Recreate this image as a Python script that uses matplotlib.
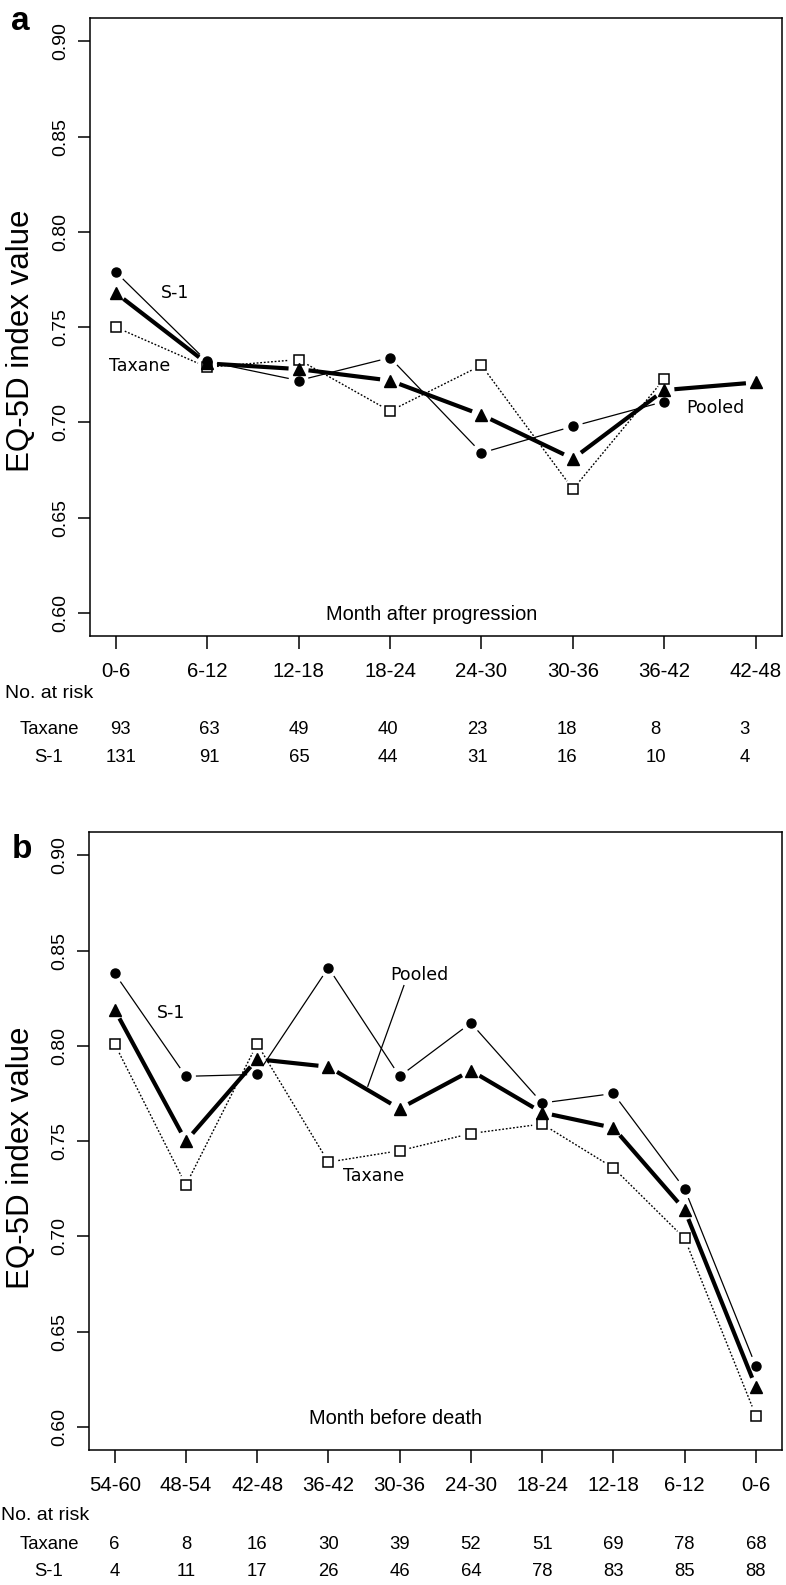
import numpy as np
import matplotlib
matplotlib.use('Agg')
import matplotlib.pyplot as plt

# ---- data ----
cats_a = ['0-6', '6-12', '12-18', '18-24', '24-30', '30-36', '36-42', '42-48']
pooled_a = [0.768, 0.731, 0.728, 0.722, 0.704, 0.681, 0.717, 0.721]
s1_a = [0.779, 0.732, 0.722, 0.734, 0.684, 0.698, 0.711, np.nan]
taxane_a = [0.750, 0.729, 0.733, 0.706, 0.730, 0.665, 0.723, np.nan]
risk_taxane_a = [93, 63, 49, 40, 23, 18, 8, 3]
risk_s1_a = [131, 91, 65, 44, 31, 16, 10, 4]

cats_b = ['54-60', '48-54', '42-48', '36-42', '30-36', '24-30', '18-24', '12-18', '6-12', '0-6']
pooled_b = [0.819, 0.750, 0.793, 0.789, 0.767, 0.787, 0.765, 0.757, 0.714, 0.621]
s1_b = [0.838, 0.784, 0.785, 0.841, 0.784, 0.812, 0.770, 0.775, 0.725, 0.632]
taxane_b = [0.801, 0.727, 0.801, 0.739, 0.745, 0.754, 0.759, 0.736, 0.699, 0.606]
risk_taxane_b = [6, 8, 16, 30, 39, 52, 51, 69, 78, 68]
risk_s1_b = [4, 11, 17, 26, 46, 64, 78, 83, 85, 88]

yticks = [0.60, 0.65, 0.70, 0.75, 0.80, 0.85, 0.90]

W, H = 786, 1585
ARIAL = 'Liberation Sans'
ANNOT = 'DejaVu Sans'

fig = plt.figure(figsize=(W / 100, H / 100), dpi=100)


def fx(px):
    return px / W


def fy(px):
    return 1 - px / H


def make_axes(left, right, top, bottom):
    return fig.add_axes([fx(left), fy(bottom), fx(right - left), (bottom - top) / H])


def gapped(ax, x, y, gap=10, **kw):
    """Emulate R type='b': line segments stop short of each point."""
    tr = ax.transData
    inv = tr.inverted()
    for i in range(len(x) - 1):
        if np.isnan(y[i]) or np.isnan(y[i + 1]):
            continue
        p0 = tr.transform((x[i], y[i]))
        p1 = tr.transform((x[i + 1], y[i + 1]))
        d = p1 - p0
        L = np.hypot(*d)
        if L <= 2 * gap:
            continue
        u = d / L
        a = inv.transform(p0 + u * gap)
        b = inv.transform(p1 - u * gap)
        ax.plot([a[0], b[0]], [a[1], b[1]], color='black', solid_capstyle='butt',
                dash_capstyle='butt', **kw)


def panel(ax, cats, pooled, s1, taxane):
    n = len(cats)
    x = np.arange(1, n + 1)
    ext = 0.04 * (n - 1)
    ax.set_xlim(1 - ext, n + ext)
    ax.set_ylim(0.588, 0.912)
    for sp in ax.spines.values():
        sp.set_linewidth(1.1)
    ax.set_xticks(x)
    ax.set_xticklabels(cats, fontsize=14.7, family=ARIAL)
    ax.set_yticks(yticks)
    ax.set_yticklabels([f'{v:.2f}' for v in yticks], fontsize=14, family=ARIAL,
                       rotation=90, va='center')
    ax.tick_params(axis='both', length=9, width=1.1)
    ax.tick_params(axis='x', pad=10)
    ax.tick_params(axis='y', pad=6)

    s1 = np.array(s1, dtype=float)
    taxane = np.array(taxane, dtype=float)
    pooled = np.array(pooled, dtype=float)

    gapped(ax, x, taxane, lw=1.0, linestyle=(0, (1.3, 1.3)))
    gapped(ax, x, s1, lw=0.9)
    gapped(ax, x, pooled, lw=3.0)
    ax.plot(x, taxane, 's', ms=7, mfc='white', mec='black', mew=1.1, ls='none')
    ax.plot(x, s1, 'o', ms=6.5, color='black', ls='none')
    ax.plot(x, pooled, '^', ms=8, color='black', ls='none')
    return x


# ---- panel a ----
ax_a = make_axes(90, 781.5, 18.3, 636)
xa = panel(ax_a, cats_a, pooled_a, s1_a, taxane_a)
ax_a.text(1.645, 0.768, 'S-1', family=ANNOT, fontsize=12.5, ha='center', va='center')
ax_a.text(1.26, 0.7294, 'Taxane', family=ANNOT, fontsize=12.5, ha='center', va='center')
ax_a.text(7.56, 0.7076, 'Pooled', family=ANNOT, fontsize=12.5, ha='center', va='center')
ax_a.text(4.45, 0.5995, 'Month after progression', family=ARIAL, fontsize=14.4,
          ha='center', va='center')

fig.text(fx(20.8), fy(22), 'a', family=ARIAL, fontsize=24, fontweight='bold',
         ha='center', va='center')
fig.text(fx(21), fy(341), 'EQ-5D index value', family=ARIAL, fontsize=22.5,
         rotation=90, ha='center', va='center')

risk_x_a = 1.055 + 0.975 * np.arange(len(cats_a))
fig.text(fx(5), fy(694), 'No. at risk', family=ARIAL, fontsize=14, ha='left', va='center')
fig.text(fx(49), fy(730), 'Taxane', family=ARIAL, fontsize=13.3, ha='center', va='center')
fig.text(fx(49), fy(757), 'S-1', family=ARIAL, fontsize=13.3, ha='center', va='center')
for xi, t, s in zip(risk_x_a, risk_taxane_a, risk_s1_a):
    px = ax_a.transData.transform((xi, 0.7))[0]
    fig.text(fx(px), fy(730), str(t), family=ARIAL, fontsize=13.3, ha='center', va='center')
    fig.text(fx(px), fy(757), str(s), family=ARIAL, fontsize=13.3, ha='center', va='center')

# ---- panel b ----
ax_b = make_axes(89, 781.5, 832.3, 1450)
xb = panel(ax_b, cats_b, pooled_b, s1_b, taxane_b)
ax_b.text(1.786, 0.8173, 'S-1', family=ANNOT, fontsize=12.5, ha='center', va='center')
ax_b.text(4.637, 0.7315, 'Taxane', family=ANNOT, fontsize=12.5, ha='center', va='center')
ax_b.text(5.28, 0.837, 'Pooled', family=ANNOT, fontsize=12.5, ha='center', va='center')
ax_b.plot([5.06, 4.553], [0.8316, 0.7788], color='black', lw=0.9)
ax_b.text(4.94, 0.6047, 'Month before death', family=ARIAL, fontsize=14.4,
          ha='center', va='center')

fig.text(fx(22), fy(850), 'b', family=ARIAL, fontsize=24, fontweight='bold',
         ha='center', va='center')
fig.text(fx(21), fy(1158), 'EQ-5D index value', family=ARIAL, fontsize=22.5,
         rotation=90, ha='center', va='center')

fig.text(fx(1), fy(1515), 'No. at risk', family=ARIAL, fontsize=14, ha='left', va='center')
fig.text(fx(49), fy(1544.3), 'Taxane', family=ARIAL, fontsize=13.3, ha='center', va='center')
fig.text(fx(49), fy(1571.7), 'S-1', family=ARIAL, fontsize=13.3, ha='center', va='center')
for xi, t, s in zip(xb, risk_taxane_b, risk_s1_b):
    px = ax_b.transData.transform((xi, 0.7))[0]
    fig.text(fx(px), fy(1544.3), str(t), family=ARIAL, fontsize=13.3, ha='center', va='center')
    fig.text(fx(px), fy(1571.7), str(s), family=ARIAL, fontsize=13.3, ha='center', va='center')

fig.savefig('out.png', dpi=100)
